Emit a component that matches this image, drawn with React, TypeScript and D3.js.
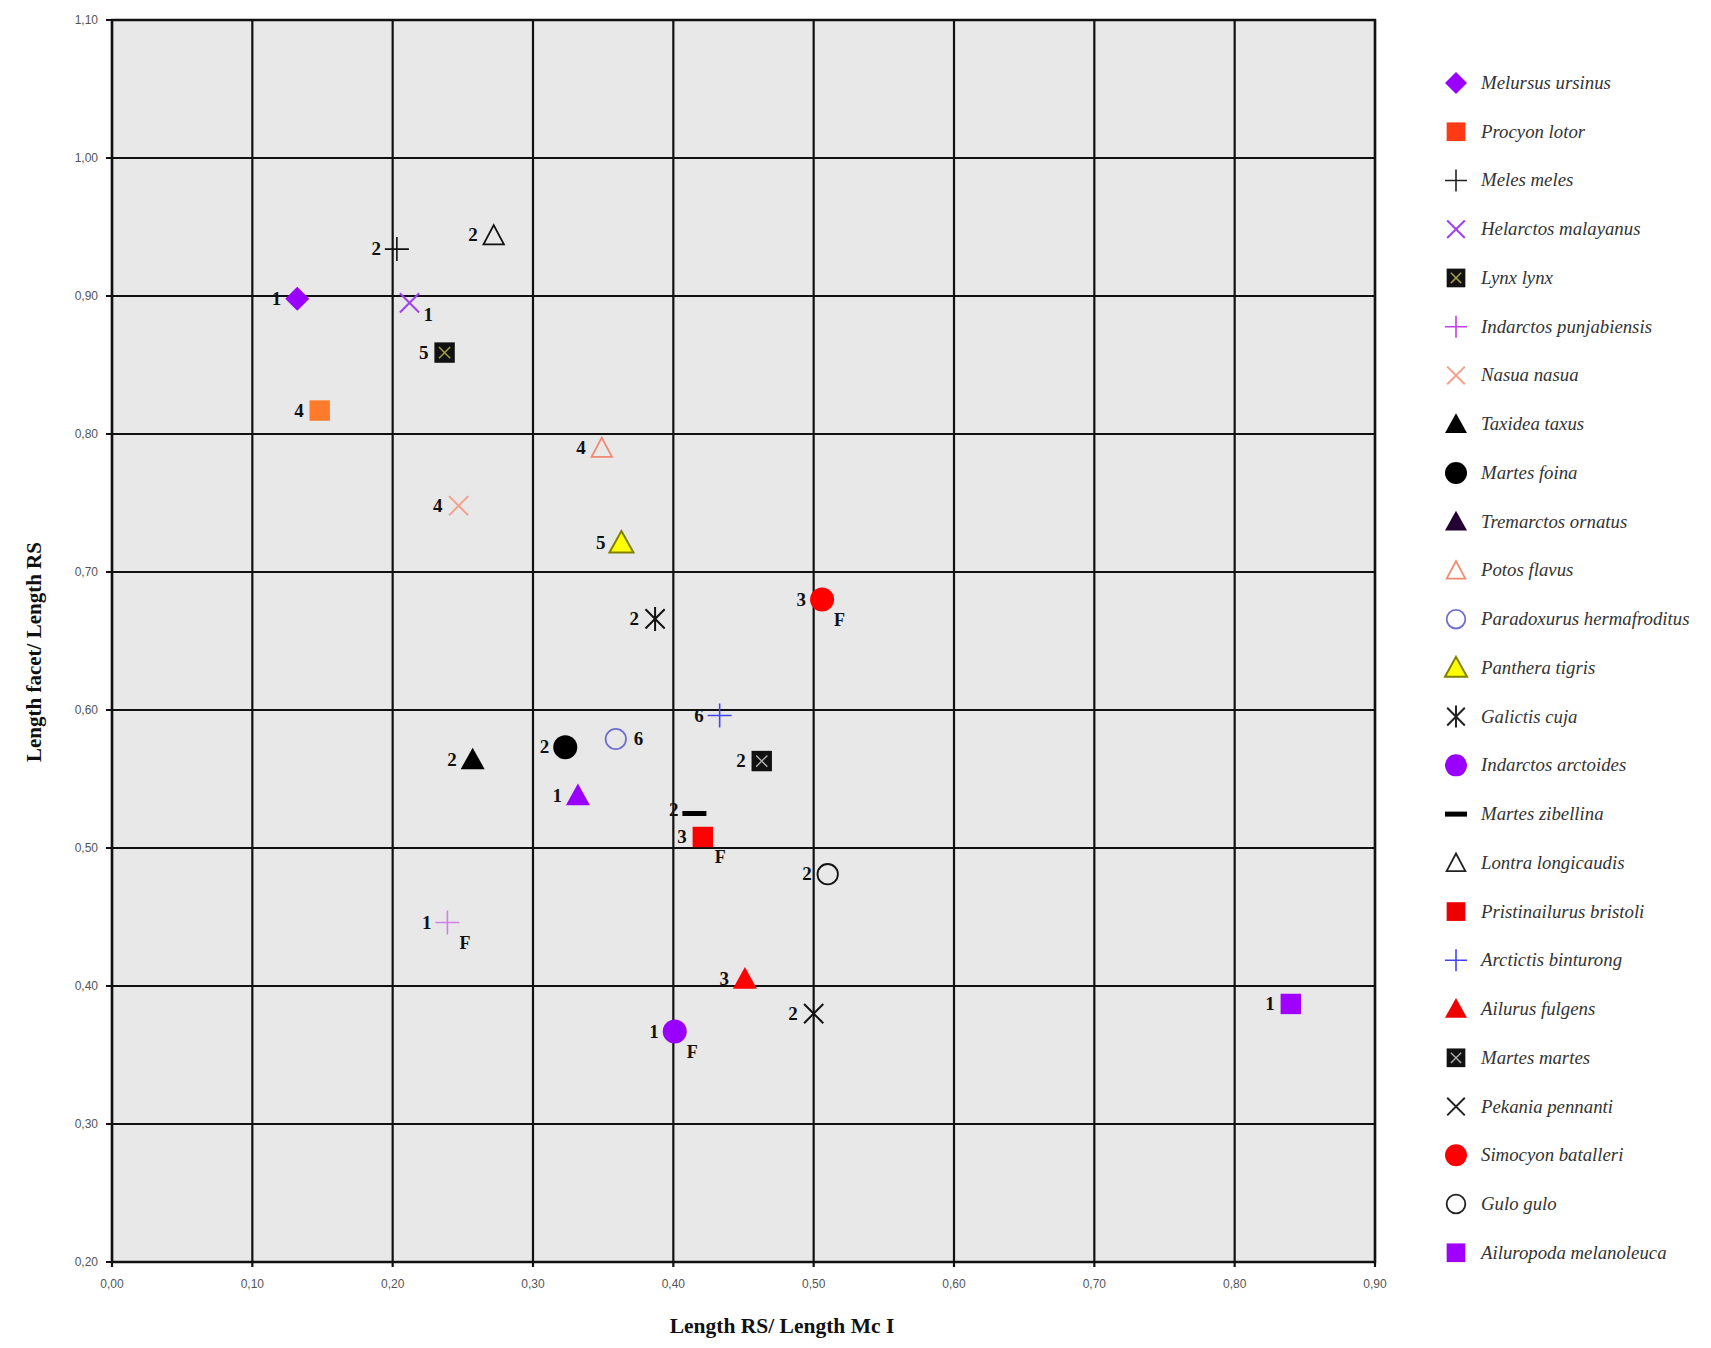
import React from "react";
import * as d3 from "d3";

// ---- data ----
const species = [
  "Melursus ursinus", "Procyon lotor", "Meles meles", "Helarctos malayanus", "Lynx lynx",
  "Indarctos punjabiensis", "Nasua nasua", "Taxidea taxus", "Martes foina", "Tremarctos ornatus",
  "Potos flavus", "Paradoxurus hermafroditus", "Panthera tigris", "Galictis cuja", "Indarctos arctoides",
  "Martes zibellina", "Lontra longicaudis", "Pristinailurus bristoli", "Arctictis binturong", "Ailurus fulgens",
  "Martes martes", "Pekania pennanti", "Simocyon batalleri", "Gulo gulo", "Ailuropoda melanoleuca",
];
const xValues = [0.132, 0.148, 0.203, 0.212, 0.237, 0.239, 0.247, 0.257, 0.323, 0.332, 0.349, 0.359, 0.363, 0.387, 0.401, 0.415, 0.272, 0.421, 0.433, 0.451, 0.463, 0.500, 0.506, 0.510, 0.840];
const yValues = [0.898, 0.817, 0.934, 0.895, 0.859, 0.446, 0.748, 0.564, 0.573, 0.538, 0.790, 0.579, 0.721, 0.666, 0.367, 0.525, 0.944, 0.508, 0.596, 0.405, 0.563, 0.380, 0.680, 0.481, 0.387];
const pointLabels = ["1", "4", "2", "1", "5", "1", "4", "2", "2", "1", "4", "6", "5", "2", "1", "2", "2", "3", "6", "3", "2", "2", "3", "2", "1"];
const labelSide = ["left", "left", "left", "rightBelow", "left", "left", "left", "left", "left", "left", "left", "right", "left", "left", "left", "leftUp", "left", "left", "left", "left", "left", "left", "left", "left", "left"];
const fossil = [false, false, false, false, false, true, false, false, false, false, false, false, false, false, true, false, false, true, false, false, false, false, true, false, false];
const shapes = ["diamond", "square", "plus", "cross", "squareX", "plus", "cross", "triangle", "circle", "triangle", "triangleOpen", "circleOpen", "triangle", "asterisk", "circle", "dash", "triangleOpen", "square", "plus", "triangle", "squareX", "cross", "circle", "circleOpen", "square"];
const plotColors = ["#9900ff", "#ff7a2a", "#111111", "#a040f0", "#111111", "#d080e8", "#f4a08a", "#000000", "#000000", "#9900ff", "#f08a70", "#7070cc", "#ffff00", "#111111", "#9900ff", "#000000", "#111111", "#ff0000", "#4444ff", "#ff0000", "#111111", "#111111", "#ff0000", "#111111", "#a000ff"];
const legendColors = ["#9900ff", "#ff3a14", "#222222", "#a040f0", "#111111", "#c040e8", "#f4a08a", "#000000", "#000000", "#220033", "#f08a70", "#7070cc", "#ffff00", "#222222", "#9900ff", "#000000", "#222222", "#ee0000", "#4444ff", "#ee0000", "#111111", "#222222", "#ff0000", "#222222", "#a000ff"];
const innerColors = ["", "", "", "", "#a0a040", "", "", "", "", "", "", "", "#808000", "", "", "", "", "", "", "", "#aaaaaa", "", "", "", ""];

const xTicks = [0, 0.1, 0.2, 0.3, 0.4, 0.5, 0.6, 0.7, 0.8, 0.9];
const yTicks = [0.2, 0.3, 0.4, 0.5, 0.6, 0.7, 0.8, 0.9, 1.0, 1.1];

const fmt = (v: number) => v.toFixed(2).replace(".", ",");

function Marker({ shape, cx, cy, s, color, inner }: { shape: string; cx: number; cy: number; s: number; color: string; inner: string }) {
  const h = s / 2;
  switch (shape) {
    case "diamond":
      return <path d={`M${cx},${cy - h} L${cx + h},${cy} L${cx},${cy + h} L${cx - h},${cy} Z`} fill={color} />;
    case "square":
      return <rect x={cx - h * 0.85} y={cy - h * 0.85} width={s * 0.85} height={s * 0.85} fill={color} />;
    case "squareX": {
      const q = h * 0.85;
      const r = q * 0.55;
      return (
        <g>
          <rect x={cx - q} y={cy - q} width={2 * q} height={2 * q} fill={color} />
          <path d={`M${cx - r},${cy - r} L${cx + r},${cy + r} M${cx - r},${cy + r} L${cx + r},${cy - r}`} stroke={inner} strokeWidth={1.5} />
        </g>
      );
    }
    case "plus":
      return <path d={`M${cx - h},${cy} L${cx + h},${cy} M${cx},${cy - h} L${cx},${cy + h}`} stroke={color} strokeWidth={1.6} />;
    case "cross": {
      const r = h * 0.8;
      return <path d={`M${cx - r},${cy - r} L${cx + r},${cy + r} M${cx - r},${cy + r} L${cx + r},${cy - r}`} stroke={color} strokeWidth={2} />;
    }
    case "asterisk": {
      const r = h * 0.8;
      return <path d={`M${cx - r},${cy - r} L${cx + r},${cy + r} M${cx - r},${cy + r} L${cx + r},${cy - r} M${cx},${cy - h} L${cx},${cy + h}`} stroke={color} strokeWidth={2} />;
    }
    case "triangle":
      return (
        <path
          d={`M${cx},${cy - h} L${cx + h},${cy + h * 0.8} L${cx - h},${cy + h * 0.8} Z`}
          fill={color}
          stroke={inner || "none"}
          strokeWidth={inner ? 2 : 0}
        />
      );
    case "triangleOpen":
      return <path d={`M${cx},${cy - h * 0.85} L${cx + h * 0.85},${cy + h * 0.75} L${cx - h * 0.85},${cy + h * 0.75} Z`} fill="none" stroke={color} strokeWidth={1.8} />;
    case "circle":
      return <circle cx={cx} cy={cy} r={h} fill={color} />;
    case "circleOpen":
      return <circle cx={cx} cy={cy} r={h * 0.85} fill="none" stroke={color} strokeWidth={1.8} />;
    case "dash":
      return <rect x={cx - h} y={cy - 2.5} width={s} height={5} fill={color} />;
    default:
      return null;
  }
}

export default function App() {
  const W = 1711, H = 1348;
  const left = 112, right = 1375, top = 20, bottom = 1262;
  const x = d3.scaleLinear().domain([0, 0.9]).range([left, right]);
  const y = d3.scaleLinear().domain([0.2, 1.1]).range([bottom, top]);

  const legendX = 1456, legendTextX = 1481, legendY0 = 83, legendStep = 48.74;

  return (
    <svg width={W} height={H} style={{ position: "absolute", left: 0, top: 0, background: "#fff" }}>
      <rect x={left} y={top} width={right - left} height={bottom - top} fill="#e8e8e8" />
      {xTicks.map((t) => (
        <g key={"xt" + t}>
          <line x1={x(t)} x2={x(t)} y1={top} y2={bottom + 5} stroke="#111" strokeWidth={2.2} />
          <text x={x(t)} y={bottom + 26} textAnchor="middle" fontFamily="Liberation Sans, Arial, sans-serif" fontSize={12} fill="#555">{fmt(t)}</text>
        </g>
      ))}
      {yTicks.map((t) => (
        <g key={"yt" + t}>
          <line x1={left - 6} x2={right} y1={y(t)} y2={y(t)} stroke="#111" strokeWidth={2.2} />
          <text x={left - 14} y={y(t) + 4} textAnchor="end" fontFamily="Liberation Sans, Arial, sans-serif" fontSize={12} fill="#555">{fmt(t)}</text>
        </g>
      ))}
      <rect x={left} y={top} width={right - left} height={bottom - top} fill="none" stroke="#111" strokeWidth={2.5} />

      {species.map((sp, i) => {
        const cx = x(xValues[i]);
        const cy = y(yValues[i]);
        const side = labelSide[i];
        let lx = cx - 16, ly = cy + 6, anchor = "end";
        if (side === "right") { lx = cx + 18; ly = cy + 6; anchor = "start"; }
        if (side === "rightBelow") { lx = cx + 14; ly = cy + 18; anchor = "start"; }
        if (side === "leftUp") { lx = cx - 16; ly = cy + 2; anchor = "end"; }
        return (
          <g key={"p" + i}>
            <Marker shape={shapes[i]} cx={cx} cy={cy} s={24} color={plotColors[i]} inner={innerColors[i]} />
            <text x={lx} y={ly} textAnchor={anchor} fontFamily="Liberation Serif, Times New Roman, serif" fontWeight="bold" fontSize={19} fill="#111">{pointLabels[i]}</text>
            {fossil[i] && (
              <text x={cx + 12} y={cy + 26} fontFamily="Liberation Serif, Times New Roman, serif" fontWeight="bold" fontSize={18} fill="#111">F</text>
            )}
          </g>
        );
      })}

      <text x={782} y={1333} textAnchor="middle" fontFamily="Liberation Serif, Times New Roman, serif" fontWeight="bold" fontSize={21.5} fill="#111">Length RS/ Length Mc I</text>
      <text transform={`translate(41, 652) rotate(-90)`} textAnchor="middle" fontFamily="Liberation Serif, Times New Roman, serif" fontWeight="bold" fontSize={21} fill="#111">Length facet/ Length RS</text>

      {species.map((sp, i) => {
        const cy = legendY0 + i * legendStep;
        return (
          <g key={"l" + i}>
            <Marker shape={shapes[i]} cx={legendX} cy={cy} s={22} color={legendColors[i]} inner={innerColors[i]} />
            <text x={legendTextX} y={cy + 6} fontFamily="Liberation Serif, Times New Roman, serif" fontStyle="italic" fontSize={18.8} fill="#333">{sp}</text>
          </g>
        );
      })}
    </svg>
  );
}
